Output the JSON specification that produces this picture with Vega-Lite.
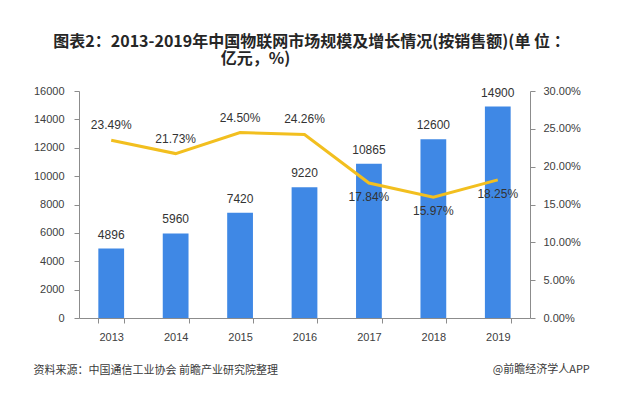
{
  "$schema": "https://vega.github.io/schema/vega-lite/v6.json",
  "autosize": "none",
  "width": 451,
  "height": 227,
  "padding": {"left": 79, "top": 91, "right": 91, "bottom": 80},
  "background": "white",
  "config": {"view": {"stroke": null}, "font": "Liberation Sans"},
  "title": {
    "text": ["图表2：2013-2019年中国物联网市场规模及增长情况(按销售额)(单 位 ：", "亿元，%)\u3000\u3000\u3000\u3000\u3000\u3000\u3000\u200b"],
    "font": "Noto Sans CJK SC",
    "fontSize": 16,
    "fontWeight": "bold",
    "color": "#262626",
    "anchor": "middle",
    "dx": 7,
    "offset": 18,
    "lineHeight": 17
  },
  "data": {
    "values": [
      {"year": "2013", "scale": 4896, "growth": 0.2349, "pos": "above"},
      {"year": "2014", "scale": 5960, "growth": 0.2173, "pos": "above"},
      {"year": "2015", "scale": 7420, "growth": 0.2450, "pos": "above"},
      {"year": "2016", "scale": 9220, "growth": 0.2426, "pos": "above"},
      {"year": "2017", "scale": 10865, "growth": 0.1784, "pos": "below"},
      {"year": "2018", "scale": 12600, "growth": 0.1597, "pos": "below"},
      {"year": "2019", "scale": 14900, "growth": 0.1825, "pos": "below"}
    ]
  },
  "encoding": {
    "x": {
      "field": "year",
      "type": "nominal",
      "scale": {"paddingInner": 0.6, "paddingOuter": 0.3},
      "axis": {
        "labelAngle": 0,
        "labelFontSize": 11,
        "labelColor": "#404040",
        "labelPadding": 8,
        "domainColor": "#8c8c8c",
        "tickColor": "#8c8c8c",
        "tickSize": 5,
        "tickBand": "extent",
        "title": "资料来源：中国通信工业协会 前瞻产业研究院整理",
        "titleFont": "Noto Sans CJK SC",
        "titleFontSize": 11,
        "titleFontWeight": "normal",
        "titleColor": "#3a3a3a",
        "titleAnchor": "start",
        "titleAlign": "left",
        "titleBaseline": "middle",
        "titleX": -46,
        "titleY": 52
      }
    }
  },
  "layer": [
    {
      "encoding": {
        "y": {
          "field": "scale",
          "type": "quantitative",
          "scale": {"domain": [0, 16000]},
          "axis": {
            "title": null,
            "values": [0, 2000, 4000, 6000, 8000, 10000, 12000, 14000, 16000],
            "format": "d",
            "grid": false,
            "labelFontSize": 11,
            "labelColor": "#404040",
            "labelPadding": 10,
            "domainColor": "#8c8c8c",
            "tickColor": "#8c8c8c",
            "tickSize": 5
          }
        }
      },
      "layer": [
        {"mark": {"type": "bar", "color": "#3F88E5"}},
        {
          "mark": {"type": "text", "baseline": "bottom", "dy": -7, "fontSize": 12, "color": "#333333"},
          "encoding": {"text": {"field": "scale", "type": "quantitative", "format": "d"}}
        }
      ]
    },
    {
      "encoding": {
        "y": {
          "field": "growth",
          "type": "quantitative",
          "scale": {"domain": [0, 0.3]},
          "axis": {
            "orient": "right",
            "title": null,
            "values": [0, 0.05, 0.1, 0.15, 0.2, 0.25, 0.3],
            "format": ".2%",
            "grid": false,
            "labelFontSize": 11,
            "labelColor": "#404040",
            "labelPadding": 8,
            "domainColor": "#8c8c8c",
            "tickColor": "#8c8c8c",
            "tickSize": 5
          }
        }
      },
      "layer": [
        {"mark": {"type": "line", "color": "#F2BF1F", "strokeWidth": 3}},
        {
          "transform": [{"filter": "datum.pos === 'above'"}],
          "mark": {"type": "text", "baseline": "bottom", "dy": -8, "fontSize": 12, "color": "#333333"},
          "encoding": {"text": {"field": "growth", "type": "quantitative", "format": ".2%"}}
        },
        {
          "transform": [{"filter": "datum.pos === 'below'"}],
          "mark": {"type": "text", "baseline": "top", "dy": 9, "fontSize": 12, "color": "#333333"},
          "encoding": {"text": {"field": "growth", "type": "quantitative", "format": ".2%"}}
        }
      ]
    },
    {
      "data": {"values": [{"note": "@前瞻经济学人APP", "v": 0}]},
      "mark": {"type": "text", "align": "left", "baseline": "middle", "dx": -5, "dy": 52, "font": "Noto Sans CJK SC", "fontSize": 11, "color": "#3a3a3a"},
      "encoding": {
        "x": {"datum": "2019"},
        "y": {"field": "v", "type": "quantitative", "scale": {"domain": [0, 1]}, "axis": null},
        "text": {"field": "note"}
      }
    }
  ],
  "resolve": {"scale": {"y": "independent"}, "axis": {"y": "independent"}}
}
